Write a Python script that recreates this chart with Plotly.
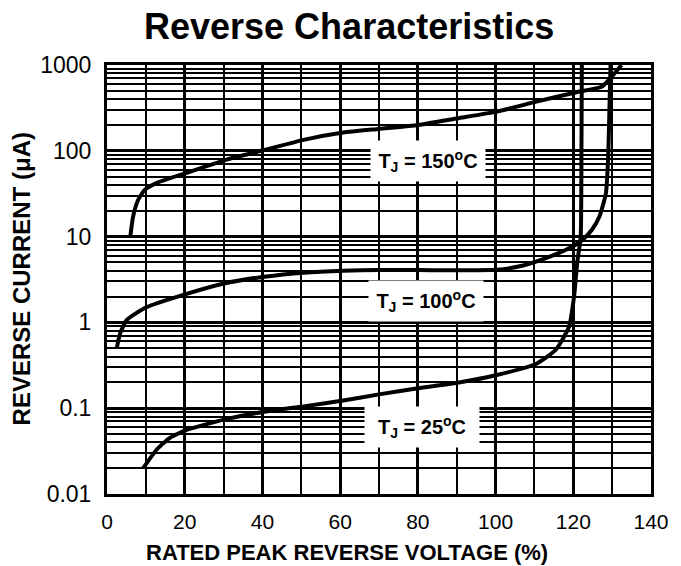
import numpy as np
import plotly.graph_objects as go

# Rated peak reverse voltage (%) vs reverse current (uA) at three junction temperatures
v_150 = [6.0, 6.7, 8.0, 9.7, 12.7, 20.3, 30.4, 40.5, 50.6, 60.8, 70.0, 80.1, 90.2, 100.3, 110.5, 120.6, 127.3, 129.9, 132.4]
i_150 = [10.0, 17.0, 26.7, 35.0, 42.0, 55.0, 78.0, 102.0, 134.0, 163.0, 180.0, 200.0, 239.0, 286.0, 374.0, 479.0, 559.0, 731.0, 1000.0]

v_100 = [2.5, 3.4, 5.1, 10.1, 20.3, 30.4, 40.5, 50.6, 60.8, 70.0, 80.1, 100.3, 107.1, 113.8, 118.9, 122.3, 124.8, 126.7, 128.4, 129.0, 129.4, 129.6]
i_100 = [0.5, 0.75, 1.07, 1.5, 2.14, 2.86, 3.41, 3.8, 4.0, 4.07, 4.07, 4.1, 4.6, 5.8, 7.3, 9.1, 12.0, 17.0, 32.0, 90.0, 470.0, 1000.0]

v_25 = [9.3, 12.7, 16.0, 20.3, 30.4, 40.5, 50.6, 60.8, 70.0, 80.1, 90.2, 100.3, 110.5, 115.5, 118.9, 120.2, 121.0, 121.9, 122.1, 122.2]
i_25 = [0.02, 0.0326, 0.0446, 0.0557, 0.074, 0.091, 0.105, 0.123, 0.145, 0.171, 0.198, 0.244, 0.33, 0.48, 0.89, 2.0, 4.9, 10.0, 100.0, 1000.0]

# Curve labels: text, voltage position, current position
label_text = ["T<sub>J</sub> = 150<sup>o</sup>C", "T<sub>J</sub> = 100<sup>o</sup>C", "T<sub>J</sub> = 25<sup>o</sup>C"]
label_v = [82.7, 82.0, 81.0]
label_i = [76.0, 1.77, 0.060]

y_tickvals = [0.01, 0.1, 1, 10, 100, 1000]
y_ticktext = ["0.01", "0.1", "1", "10", "100", "1000"]
x_tickvals = [0, 20, 40, 60, 80, 100, 120, 140]

FONT = "Arial, Liberation Sans, sans-serif"

fig = go.Figure()
for v, i in [(v_150, i_150), (v_100, i_100), (v_25, i_25)]:
    fig.add_trace(go.Scatter(x=v, y=i, mode="lines",
                             line=dict(color="black", width=4, shape="spline", smoothing=0.5),
                             showlegend=False, hoverinfo="skip"))

for t, lv, li in zip(label_text, label_v, label_i):
    fig.add_annotation(x=lv, y=np.log10(li), xref="x", yref="y", text=t, showarrow=False,
                       font=dict(family=FONT, size=20, color="black", weight="bold"),
                       bgcolor="white", width=108, height=34, borderpad=3)

fig.update_xaxes(range=[0, 140], tickvals=x_tickvals, ticks="",
                 tickfont=dict(family=FONT, size=21, color="black"), ticklabelstandoff=7,
                 showgrid=True, gridcolor="black", gridwidth=3,
                 minor=dict(dtick=10, showgrid=True, gridcolor="black", gridwidth=2),
                 showline=True, linecolor="black", linewidth=3, mirror=True, zeroline=False)
fig.update_yaxes(type="log", range=[-2, 3], tickvals=y_tickvals, ticktext=y_ticktext, ticks="",
                 tickfont=dict(family=FONT, size=23, color="black"), ticklabelstandoff=8,
                 showgrid=True, gridcolor="black", gridwidth=3,
                 minor=dict(dtick="D1", showgrid=True, gridcolor="black", gridwidth=1.5),
                 showline=True, linecolor="black", linewidth=3, mirror=True, zeroline=False)

fig.add_annotation(text="<b>Reverse Characteristics</b>", xref="paper", yref="paper",
                   x=(352.5 - 107) / 553, y=1 + (65 - 26) / 429, showarrow=False,
                   font=dict(family=FONT, size=36, color="black"), xanchor="center", yanchor="middle")
fig.add_annotation(text="<b>RATED PEAK REVERSE VOLTAGE (%)</b>", xref="paper", yref="paper",
                   x=(350.5 - 107) / 553, y=-(552 - 494) / 429, showarrow=False,
                   font=dict(family=FONT, size=22, color="black"), xanchor="center", yanchor="middle")
fig.add_annotation(text="<b>REVERSE CURRENT (\u03bcA)</b>", xref="paper", yref="paper",
                   x=-(107 - 20) / 553, y=(494 - 279) / 429, showarrow=False, textangle=-90,
                   font=dict(family=FONT, size=24, color="black"), xanchor="center", yanchor="middle")

fig.update_layout(width=681, height=566, plot_bgcolor="white", paper_bgcolor="white",
                  margin=dict(l=107, r=21, t=65, b=72), showlegend=False)

fig.write_html("out.html")
